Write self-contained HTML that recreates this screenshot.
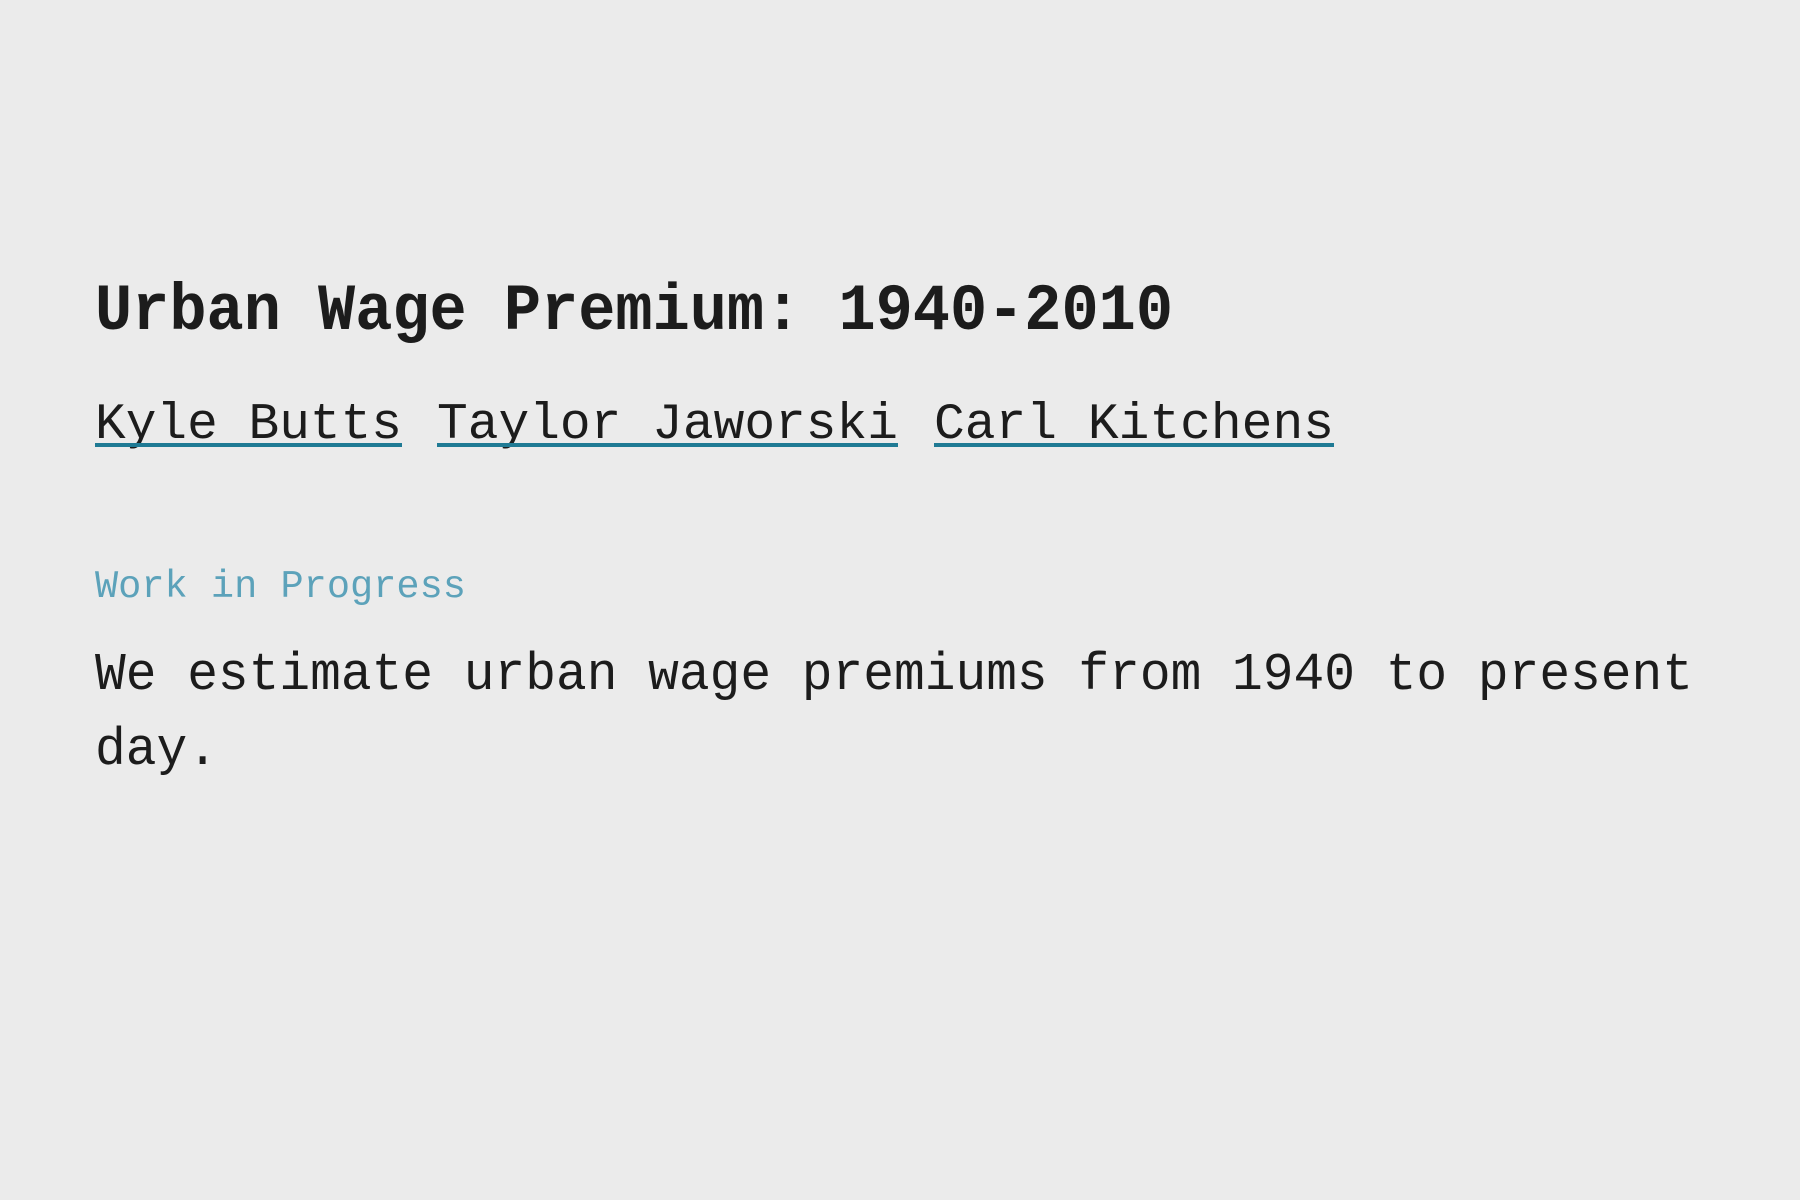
<!DOCTYPE html>
<html>
<head>
<meta charset="utf-8">
<style>
  html, body { margin:0; padding:0; background:#ebebeb; }
  svg { display:block; }
  text { font-family: "Liberation Mono", "DejaVu Sans Mono", monospace; }
</style>
</head>
<body>
<svg width="1800" height="1200" viewBox="0 0 1800 1200">
  <rect x="0" y="0" width="1800" height="1200" fill="#ebebeb"/>
  <text x="95" y="329" font-size="66" font-weight="bold" fill="#1c1c1c" textLength="1078" lengthAdjust="spacingAndGlyphs">Urban Wage Premium: 1940-2010</text>

  <g>
    <text x="95" y="438" font-size="51" fill="#1c1c1c" textLength="307" lengthAdjust="spacingAndGlyphs">Kyle Butts</text>
    <rect x="95" y="443" width="307" height="4" fill="#1f7a94"/>
  </g>
  <g>
    <text x="437" y="438" font-size="51" fill="#1c1c1c" textLength="461" lengthAdjust="spacingAndGlyphs">Taylor Jaworski</text>
    <rect x="437" y="443" width="461" height="4" fill="#1f7a94"/>
  </g>
  <g>
    <text x="934" y="438" font-size="51" fill="#1c1c1c" textLength="400" lengthAdjust="spacingAndGlyphs">Carl Kitchens</text>
    <rect x="934" y="443" width="400" height="4" fill="#1f7a94"/>
  </g>

  <text x="95" y="597" font-size="39" fill="#5ca2ba" textLength="371" lengthAdjust="spacingAndGlyphs">Work in Progress</text>

  <g>
    <text x="95" y="689" font-size="53" fill="#1c1c1c" textLength="1598" lengthAdjust="spacingAndGlyphs">We estimate urban wage premiums from 1940 to present</text>
    <text x="95" y="764" font-size="53" fill="#1c1c1c" textLength="123" lengthAdjust="spacingAndGlyphs">day.</text>
  </g>
</svg>
</body>
</html>
